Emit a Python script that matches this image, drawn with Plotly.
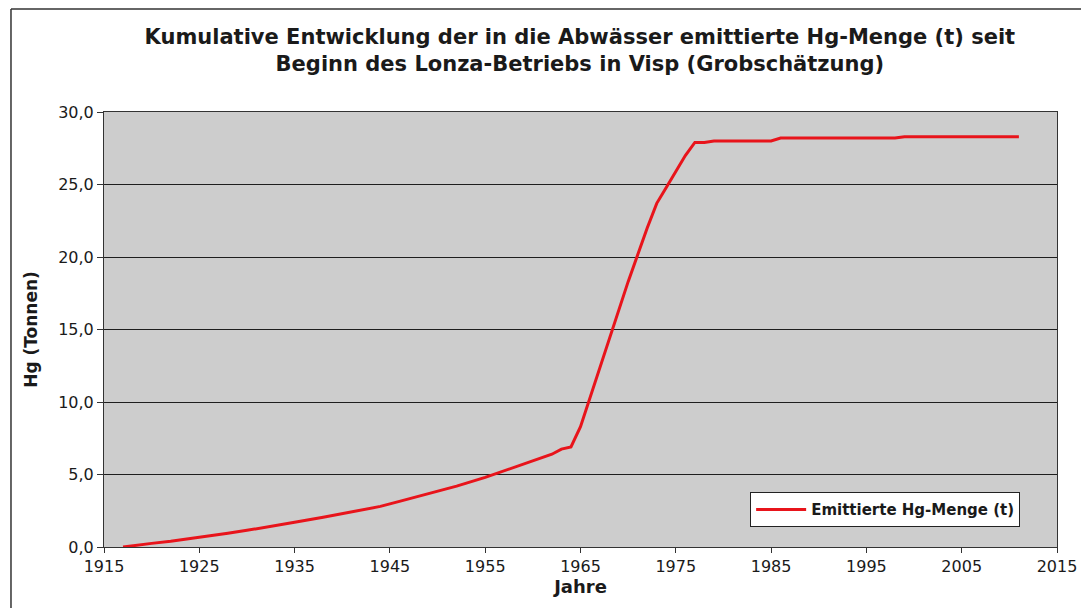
import plotly.graph_objects as go

# Jahre und kumulative Hg-Menge (Tonnen)
jahre = [1917, 1918, 1920, 1922, 1925, 1928, 1930, 1932, 1935, 1938, 1940, 1942,
         1944, 1946, 1948, 1950, 1952, 1955, 1958, 1960, 1962, 1963, 1964, 1965,
         1966, 1968, 1970, 1972, 1973, 1974, 1975, 1976, 1977, 1978, 1979, 1985,
         1986, 1998, 1999, 2011]
hg_tonnen = [0.0, 0.1, 0.25, 0.4, 0.65, 0.95, 1.15, 1.35, 1.7, 2.05, 2.3, 2.55,
             2.8, 3.15, 3.5, 3.9, 4.2, 4.8, 5.5, 5.95, 6.4, 6.75, 6.9, 8.3,
             10.3, 14.2, 18.3, 22.0, 23.7, 24.8, 25.9, 27.0, 27.9, 27.9, 28.0, 28.0,
             28.2, 28.2, 28.3, 28.3]

x_ticks = [1915, 1925, 1935, 1945, 1955, 1965, 1975, 1985, 1995, 2005, 2015]
y_ticks = [0, 5, 10, 15, 20, 25, 30]

fig = go.Figure()
fig.add_trace(go.Scatter(
    x=jahre, y=hg_tonnen, mode="lines",
    name="Emittierte Hg-Menge (t)",
    line=dict(color="#E8141B", width=3),
))

fig.update_layout(
    width=1081, height=600,
    margin=dict(l=96, r=32, t=104, b=61),
    paper_bgcolor="white",
    plot_bgcolor="#CDCDCD",
    font=dict(family="DejaVu Sans", color="#1a1a1a", size=16),
    title=dict(
        text="Kumulative Entwicklung der in die Abwässer emittierte Hg-Menge (t) seit<br>"
             "Beginn des Lonza-Betriebs in Visp (Grobschätzung)",
        xref="container", x=0.529, xanchor="center",
        yref="container", y=0.94, yanchor="top",
        font=dict(family="DejaVu Sans", size=21, color="#1a1a1a", weight="bold"),
    ),
    separators=",.",
    showlegend=True,
    legend=dict(
        x=0.678, y=0.126, xanchor="left", yanchor="top",
        bgcolor="white", bordercolor="#222222", borderwidth=1,
        itemwidth=50,
        font=dict(family="DejaVu Sans", size=15, color="#1a1a1a", weight="bold"),
    ),
)

fig.update_xaxes(
    range=[1915, 2015], tickvals=x_ticks, ticks="outside", ticklen=5,
    tickcolor="#333333", showgrid=False, zeroline=False,
    showline=True, linecolor="#333333", linewidth=1, mirror=True,
    title=dict(text="<b>Jahre</b>", font=dict(size=18), standoff=4),
    tickfont=dict(size=16),
)
fig.update_yaxes(
    range=[0, 30], tickvals=y_ticks, tickformat=".1f", ticks="outside", ticklen=6,
    tickcolor="#333333", showgrid=True, gridcolor="#1e1e1e", gridwidth=1,
    zeroline=False, showline=True, linecolor="#333333", linewidth=1, mirror=True,
    title=dict(text="<b>Hg (Tonnen)</b>", font=dict(size=17), standoff=16),
    tickfont=dict(size=16),
)

# Rahmen um die ganze Grafik (links und oben sichtbar)
fig.add_shape(type="line", xref="paper", yref="paper",
              x0=-0.0976, x1=-0.0976, y0=-0.2, y1=1.2368,
              line=dict(color="#333333", width=1.5))
fig.add_shape(type="line", xref="paper", yref="paper",
              x0=-0.0976, x1=1.05, y0=1.2368, y1=1.2368,
              line=dict(color="#333333", width=1.5))

fig.write_html("out.html")
